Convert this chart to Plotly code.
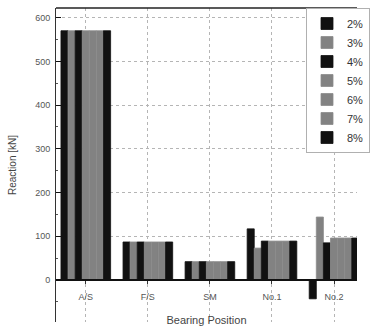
import plotly.graph_objects as go

categories = ["A/S", "F/S", "SM", "No.1", "No.2"]
series_names = ["2%", "3%", "4%", "5%", "6%", "7%", "8%"]
values = {
    "2%": [570, 87, 42, 117, -43],
    "3%": [570, 87, 42, 73, 144],
    "4%": [570, 87, 42, 89, 85],
    "5%": [570, 87, 42, 89, 96],
    "6%": [570, 87, 42, 89, 96],
    "7%": [570, 87, 42, 89, 96],
    "8%": [570, 87, 42, 89, 96],
}
styles = ["black", "gray", "black", "gray", "gray", "gray", "black"]
y_ticks = [0, 100, 200, 300, 400, 500, 600]

FONT = "Liberation Sans"
fig = go.Figure()
for name, st in zip(series_names, styles):
    if st == "black":
        marker = dict(color="#111111", line=dict(width=0.8, color="#111111"))
    else:
        marker = dict(color="#8c8c8c", line=dict(width=0.8, color="#8c8c8c"),
                      pattern=dict(shape=".", fgcolor="#555555", bgcolor="#8c8c8c",
                                   size=2, solidity=0.4, fillmode="overlay"))
    fig.add_trace(go.Bar(x=categories, y=values[name], name=name, marker=marker))

ymin, ymax = -96, 622
zero_pos = (0 - ymin) / (ymax - ymin)

fig.update_layout(
    width=370, height=335,
    margin=dict(l=56, r=0, t=8, b=13),
    paper_bgcolor="white", plot_bgcolor="white",
    barmode="group", bargap=0.2, bargroupgap=0,
    font=dict(family=FONT, size=9, color="#444444"),
    showlegend=True,
    legend=dict(x=0.831, y=1, xanchor="left", yanchor="top",
                bgcolor="white", bordercolor="#b0b0b0", borderwidth=1,
                font=dict(size=11, color="#333333"), tracegroupgap=0,
                itemwidth=30),
    xaxis=dict(
        range=[-0.48, 4.37], anchor="free", position=zero_pos,
        showline=True, linecolor="#111111", linewidth=1.5,
        ticks="outside", ticklen=3, tickcolor="#333333",
        ticklabelstandoff=5,
        showgrid=True, gridcolor="#b5b5b5", griddash="dot", gridwidth=1,
        tickfont=dict(size=9, color="#555555"),
        title=dict(text="Bearing Position", font=dict(size=11, color="#444444"), standoff=15),
        automargin=False,
    ),
    yaxis=dict(
        range=[ymin, ymax], tickvals=y_ticks,
        showline=True, linecolor="#333333", linewidth=1,
        ticks="inside", ticklen=5, tickcolor="#111111",
        ticklabelstandoff=3,
        minor=dict(ticks="inside", ticklen=2, dtick=50, tickcolor="#555555", showgrid=False),
        showgrid=True, gridcolor="#b5b5b5", griddash="dot", gridwidth=1,
        zeroline=False,
        tickfont=dict(size=9, color="#555555"),
        title=dict(text="Reaction [kN]", font=dict(size=10, color="#444444"), standoff=16),
        automargin=False,
    ),
    shapes=[dict(type="line", xref="paper", yref="paper", x0=0, x1=1, y0=1, y1=1,
                 line=dict(color="#222222", width=1.5))],
)

fig.write_html("out.html", config={"displayModeBar": False},
               post_script="document.body.style.margin='0';")
